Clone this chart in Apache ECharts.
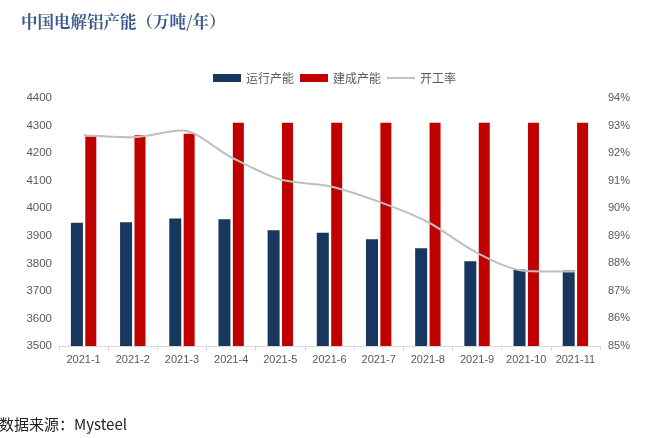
<!DOCTYPE html>
<html><head><meta charset="utf-8">
<script src="https://cdn.jsdelivr.net/npm/echarts@6/dist/echarts.min.js"></script>
<style>html,body{margin:0;padding:0;background:#fff}#c{width:648px;height:438px}</style>
</head><body><div id="c"></div>
<script>
const categories = ['2021-1','2021-2','2021-3','2021-4','2021-5','2021-6','2021-7','2021-8','2021-9','2021-10','2021-11'];
const running = [3947, 3949, 3963, 3960, 3920, 3911, 3887, 3855, 3808, 3778, 3774];
const built = [4260, 4265, 4270, 4310, 4310, 4310, 4310, 4310, 4310, 4310, 4310];
const rate = [92.65, 92.58, 92.82, 91.85, 91.04, 90.8, 90.24, 89.5, 88.38, 87.72, 87.7];
const leftTicks = [3500, 4400, 100];
const rightTicks = [85, 94, 1];

const chart = echarts.init(document.getElementById('c'), null, {renderer:'canvas'});
const cjk = '"Noto Sans CJK SC", "Noto Sans", sans-serif';
const lat = '"Liberation Sans", Arial, sans-serif';
chart.setOption({
  animation:false,
  backgroundColor:'#fff',
  title:[{text:'中国电解铝产能（万吨/年）', left:21, top:13, padding:0,
    textStyle:{fontFamily:'"Noto Serif CJK SC", "Noto Sans CJK SC", serif', fontSize:16.5, fontWeight:'bold', color:'#3b5b8c'}},
    {text:'数据来源：Mysteel', left:-1, top:417, padding:0,
    textStyle:{fontFamily:cjk, fontSize:15, fontWeight:'normal', color:'#222'}}],
  legend:{top:67, left:208, itemWidth:28, itemHeight:8, itemGap:6,
    textStyle:{fontFamily:cjk, fontSize:12, color:'#595959'},
    data:[{name:'运行产能', icon:'rect'},{name:'建成产能', icon:'rect'},{name:'开工率', icon:'path://M0,0 L30,0 L30,2 L0,2 Z'}]},
  grid:{left:59, right:48, top:98, bottom:92},
  xAxis:{type:'category', data:categories, boundaryGap:true,
    axisLine:{lineStyle:{color:'#d9d9d9'}}, axisTick:{show:true, lineStyle:{color:'#d9d9d9'}},
    axisLabel:{color:'#595959', fontSize:11, margin:8, interval:0, fontFamily:lat}},
  yAxis:[{type:'value', min:leftTicks[0], max:leftTicks[1], interval:leftTicks[2],
    splitLine:{show:false}, axisLine:{show:false}, axisTick:{show:false},
    axisLabel:{color:'#595959', fontSize:11.5, margin:7, formatter:v=>String(v), fontFamily:lat}},
   {type:'value', min:rightTicks[0], max:rightTicks[1], interval:rightTicks[2], position:'right',
    splitLine:{show:false}, axisLine:{show:false}, axisTick:{show:false},
    axisLabel:{color:'#595959', fontSize:11, margin:8, formatter:'{value}%', fontFamily:lat}}],
  series:[
    {name:'运行产能', type:'bar', data:running, barWidth:12, barGap:'20%', itemStyle:{color:'#17375e'}},
    {name:'建成产能', type:'bar', data:built, barWidth:11, itemStyle:{color:'#c00000'}},
    {name:'开工率', type:'line', yAxisIndex:1, data:rate, smooth:0.3, symbol:'none',
     lineStyle:{color:'#bfbfbf', width:2}, itemStyle:{color:'#bfbfbf'}}
  ]
});
</script></body></html>
